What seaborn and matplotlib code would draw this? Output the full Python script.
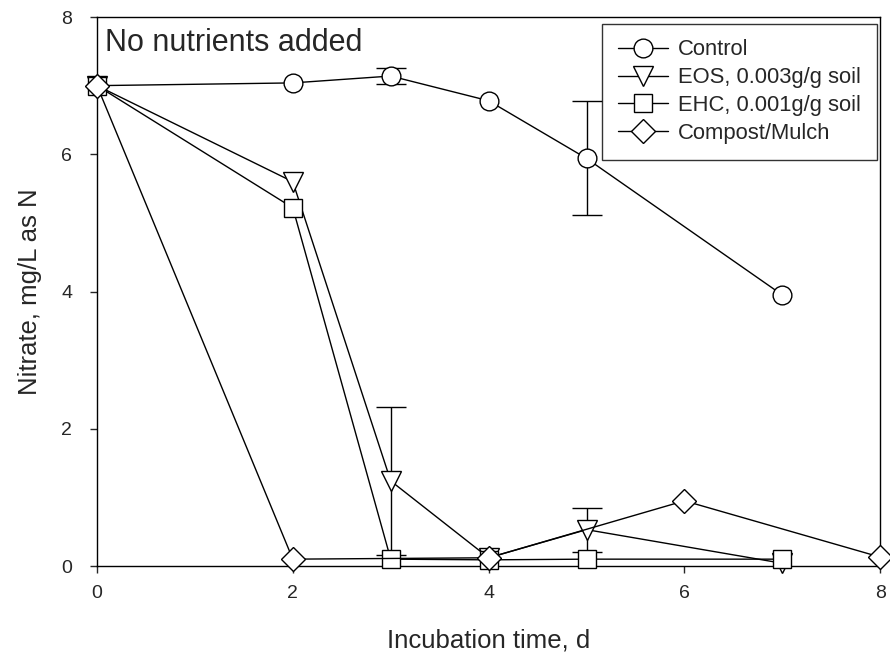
import matplotlib
matplotlib.use("Agg")
import matplotlib.pyplot as plt
import seaborn as sns
import pandas as pd
import numpy as np

sns.set_style("ticks")
plt.rcParams['font.family'] = ['Liberation Sans', 'DejaVu Sans']

# Data
control_x = [0, 2, 3, 4, 5, 7]
control_y = [7.0, 7.04, 7.14, 6.78, 5.94, 3.95]
control_err = [0, 0, 0.12, 0, 0.83, 0]

eos_x = [0, 2, 3, 4, 5, 7]
eos_y = [7.0, 5.6, 1.24, 0.12, 0.53, 0.04]
eos_err = [0, 0, 1.08, 0, 0.32, 0]

ehc_x = [0, 2, 3, 4, 5, 7]
ehc_y = [7.0, 5.22, 0.1, 0.09, 0.1, 0.1]
ehc_err = [0, 0, 0, 0, 0, 0]

comp_x = [0, 2, 4, 6, 8]
comp_y = [7.0, 0.1, 0.12, 0.95, 0.13]

labels = ["Control", "EOS, 0.003g/g soil", "EHC, 0.001g/g soil", "Compost/Mulch"]
x_ticks = [0, 2, 4, 6, 8]
y_ticks = [0, 2, 4, 6, 8]

fig = plt.figure(figsize=(8.9, 6.6), dpi=100)
ax = fig.add_axes([0.109, 0.1424, 0.880, 0.8318])

series = [
    (control_x, control_y, control_err, labels[0], 'o', 13.5),
    (eos_x, eos_y, eos_err, labels[1], 'v', 15),
    (ehc_x, ehc_y, ehc_err, labels[2], 's', 12.5),
    (comp_x, comp_y, None, labels[3], 'D', 12.5),
]

for i, (xs, ys, errs, lab, mk, ms) in enumerate(series):
    df = pd.DataFrame({"x": xs, "y": ys})
    if errs is not None:
        e = np.array(errs)
        m = e > 0
        ax.errorbar(np.array(xs)[m], np.array(ys)[m], yerr=e[m], fmt='none',
                    ecolor='black', elinewidth=1.0, capsize=11, capthick=1.0,
                    zorder=2 + i)
    sns.lineplot(data=df, x="x", y="y", ax=ax, color='black', linewidth=1.0,
                 marker=mk, markersize=ms, markerfacecolor='white',
                 markeredgecolor='black', markeredgewidth=1.0, label=lab,
                 zorder=3 + i, clip_on=False)

ax.set_xlim(0, 8)
ax.set_ylim(0, 8)
ax.set_xticks(x_ticks)
ax.set_yticks(y_ticks)
ax.tick_params(direction='out', length=5, width=1, labelsize=14)
ax.tick_params(axis='x', pad=9)
ax.tick_params(axis='y', pad=13)
for s in ax.spines.values():
    s.set_linewidth(1.0)
    s.set_color('black')

ax.set_xlabel("Incubation time, d", fontsize=18.5, labelpad=19)
ax.set_ylabel("Nitrate, mg/L as N", fontsize=18.5, labelpad=14)

ax.text(0.01, 0.98, "No nutrients added", transform=ax.transAxes,
        fontsize=22, va='top', ha='left')

leg = ax.legend(loc='upper right', bbox_to_anchor=(0.9985, 0.992), fontsize=15.8,
                frameon=True, fancybox=False, edgecolor='black',
                handlelength=2.25, borderpad=0.72, labelspacing=0.31,
                handletextpad=0.48, markerscale=1.0, borderaxespad=0.1)
leg.get_frame().set_linewidth(1.0)

fig.savefig("out.png", dpi=100)
